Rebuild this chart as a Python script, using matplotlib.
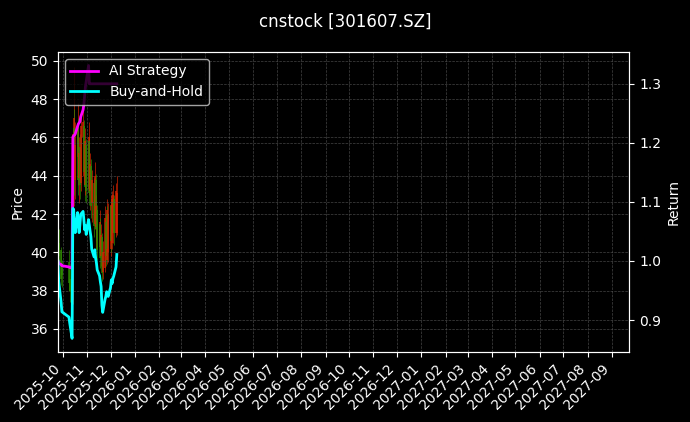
import matplotlib
matplotlib.use("Agg")
import matplotlib.pyplot as plt
import matplotlib.dates as mdates
import pandas as pd
import numpy as np

plt.style.use("dark_background")

dates = pd.to_datetime([
    "2025-09-25", "2025-09-26", "2025-09-29", "2025-09-30", "2025-10-09", "2025-10-10",
    "2025-10-13", "2025-10-14", "2025-10-15", "2025-10-16", "2025-10-17", "2025-10-20",
    "2025-10-21", "2025-10-22", "2025-10-23", "2025-10-24", "2025-10-27", "2025-10-28",
    "2025-10-29", "2025-10-30", "2025-10-31", "2025-11-03", "2025-11-04", "2025-11-05",
    "2025-11-06", "2025-11-07", "2025-11-10", "2025-11-11", "2025-11-12", "2025-11-13",
    "2025-11-14", "2025-11-17", "2025-11-18", "2025-11-19", "2025-11-20", "2025-11-21",
    "2025-11-24", "2025-11-25", "2025-11-26", "2025-11-27", "2025-11-28", "2025-12-01",
    "2025-12-02", "2025-12-03", "2025-12-04", "2025-12-05", "2025-12-08", "2025-12-09",
])

open_ = [42.6, 40.5, 40.1, 39.2, 39.5, 38.6, 37.8, 37.5, 44.0, 46.5, 43.8, 45.0,
         46.5, 43.9, 45.5, 43.6, 46.0, 46.6, 44.5, 43.5, 45.6, 43.3, 45.8, 43.2,
         44.5, 42.6, 43.6, 41.5, 43.8, 41.3, 42.2, 40.3, 41.5, 39.8, 40.8, 39.0,
         39.2, 41.6, 39.6, 42.0, 40.0, 40.2, 42.4, 40.5, 41.0, 42.8, 41.0, 41.0]
high = [42.8, 41.2, 40.3, 39.6, 40.1, 39.4, 38.3, 46.4, 49.7, 47.5, 46.8, 47.8,
        47.0, 46.0, 46.2, 47.3, 47.6, 46.9, 45.8, 46.5, 45.9, 46.8, 46.0, 45.2,
        44.9, 44.3, 43.9, 44.7, 44.1, 43.0, 42.5, 42.2, 41.8, 41.5, 41.0, 40.6,
        42.4, 41.9, 42.8, 42.4, 42.6, 43.0, 42.7, 43.2, 43.5, 43.0, 43.6, 44.0]
low = [40.0, 39.5, 38.3, 38.2, 38.0, 37.4, 35.5, 37.3, 42.4, 43.0, 42.8, 43.5,
       43.0, 42.6, 42.8, 43.2, 44.0, 43.5, 42.7, 43.0, 42.6, 43.0, 42.5, 42.2,
       41.8, 41.6, 40.8, 41.2, 40.6, 40.2, 39.6, 39.8, 39.2, 39.3, 38.5, 38.6,
       39.0, 39.3, 39.4, 39.6, 39.5, 39.8, 40.0, 40.2, 40.5, 40.4, 40.8, 40.9]
close = [40.4, 39.8, 38.6, 38.8, 38.4, 38.0, 36.9, 46.2, 47.0, 43.8, 45.6, 46.5,
         43.8, 45.2, 43.5, 46.6, 46.8, 44.2, 43.4, 45.8, 43.2, 46.0, 43.1, 44.6,
         42.4, 43.8, 41.4, 44.0, 41.2, 42.4, 40.1, 41.6, 39.7, 40.9, 38.9, 40.0,
         41.8, 39.8, 42.2, 40.2, 42.0, 42.5, 40.6, 42.8, 43.0, 41.0, 43.2, 43.1]

ai_strategy = [1.000, 0.996, 0.994, 0.992, 0.990, 0.989, 0.988, 1.210, 1.212, 1.213, 1.215, 1.228,
               1.232, 1.234, 1.236, 1.244, 1.256, 1.265, 1.280, 1.295, 1.304, 1.331, 1.300, 1.300,
               1.300, 1.300, 1.300, 1.300, 1.300, 1.300, 1.300, 1.300, 1.300, 1.300, 1.300, 1.300,
               1.300, 1.300, 1.300, 1.300, 1.300, 1.300, 1.300, 1.300, 1.300, 1.300, 1.300, 1.300]
buy_hold = [1.000, 0.965, 0.930, 0.914, 0.905, 0.895, 0.869, 1.089, 1.087, 1.060, 1.048, 1.082,
            1.060, 1.048, 1.062, 1.079, 1.084, 1.070, 1.053, 1.060, 1.045, 1.070, 1.060, 1.050,
            1.041, 1.020, 1.007, 1.019, 1.005, 0.997, 0.985, 0.975, 0.965, 0.957, 0.925, 0.913,
            0.935, 0.940, 0.948, 0.944, 0.940, 0.955, 0.968, 0.962, 0.970, 0.974, 0.990, 1.011]

title = "cnstock [301607.SZ]"

fig = plt.figure(figsize=(6.9, 4.22), dpi=100, facecolor="black")
ax = fig.add_axes([0.084, 0.166, 0.828, 0.711])
ax.set_facecolor("black")
ax2 = ax.twinx()

o = np.array(open_); h = np.array(high); l = np.array(low); c = np.array(close)
colors = np.where(c >= o, "#d82400", "#2e8c00")
ax.vlines(dates, l, h, colors=colors, linewidth=0.6, alpha=0.8)
ax.vlines(dates, np.minimum(o, c), np.maximum(o, c), colors=colors, linewidth=1.2, alpha=0.85)

ax2.plot(dates, ai_strategy, color="magenta", linewidth=2, label="AI Strategy")
ax2.plot(dates, buy_hold, color="cyan", linewidth=2, label="Buy-and-Hold")

ax.set_xlim(pd.Timestamp("2025-09-25"), pd.Timestamp("2027-09-23"))
ax.set_ylim(34.8, 50.47)
ax2.set_ylim(0.846, 1.354)

ax.xaxis.set_major_locator(mdates.MonthLocator())
ax.xaxis.set_major_formatter(mdates.DateFormatter("%Y-%m"))
plt.setp(ax.get_xticklabels(), rotation=45, ha="right")

ax.grid(True, linestyle="--", linewidth=0.5, color="#555555", alpha=0.8)
ax2.grid(True, linestyle="--", linewidth=0.5, color="#555555", alpha=0.8)

ax.set_ylabel("Price")
ax2.set_ylabel("Return")
fig.suptitle(title, fontsize=12, y=0.97)

ax2.legend(loc="upper left")

fig.savefig("out.png", dpi=100, facecolor="black")
